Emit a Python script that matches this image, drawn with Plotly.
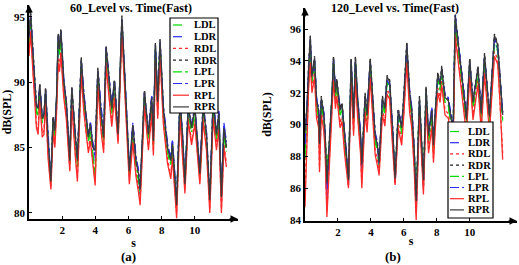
import plotly.graph_objects as go

# ---------------- data ----------------
series_names = ["LDL", "LDR", "RDL", "RDR", "LPL", "LPR", "RPL", "RPR"]
x_ticks = [2, 4, 6, 8, 10]
y_ticks_a = [80, 85, 90, 95]
y_ticks_b = [84, 86, 88, 90, 92, 94, 96]

t_a = [0.00, 0.10, 0.25, 0.45, 0.55, 0.65, 0.80, 0.90, 1.00, 1.15,
       1.32, 1.45, 1.56, 1.66, 1.76, 1.84, 1.92, 2.10, 2.25, 2.46,
       2.58, 2.70, 2.80, 2.92, 3.15, 3.30, 3.45, 3.58, 3.70, 3.85,
       3.99, 4.15, 4.35, 4.50, 4.65, 4.80, 4.99, 5.15, 5.37, 5.60,
       5.80, 6.05, 6.26, 6.45, 6.60, 6.70, 6.96, 7.20, 7.40, 7.50,
       7.62, 7.76, 7.90, 8.10, 8.35, 8.55, 8.65, 8.90, 9.10, 9.25,
       9.40, 9.60, 9.80, 10.00, 10.30, 10.50, 10.70, 10.90, 11.10, 11.30,
       11.45, 11.60, 11.75, 11.90]

a_LDL = [93.0, 94.6, 91.6, 87.6, 87.5, 89.4, 86.8, 87.0, 89.1, 85.1,
         82.8, 86.9, 85.8, 88.4, 93.1, 92.0, 93.5, 89.6, 88.0, 83.8,
         89.2, 86.6, 85.3, 83.6, 91.3, 88.6, 86.6, 85.4, 86.4, 84.6,
         82.8, 90.6, 87.1, 85.4, 92.2, 90.1, 87.6, 89.7, 85.8, 94.5,
         89.6, 83.0, 86.3, 83.6, 82.5, 81.6, 88.9, 85.6, 88.4, 85.1,
         92.5, 88.1, 92.8, 87.6, 84.6, 83.6, 85.0, 80.8, 88.2, 85.6,
         82.4, 87.8, 86.1, 87.6, 82.7, 87.8, 85.6, 81.0, 88.1, 85.6,
         87.2, 81.5, 86.1, 84.6]
a_LDR = [93.3, 95.0, 91.9, 88.0, 88.1, 89.7, 87.3, 87.4, 89.4, 85.6,
         82.6, 87.2, 86.4, 88.7, 93.4, 92.7, 93.8, 90.1, 88.4, 84.2,
         89.4, 87.1, 85.9, 84.2, 91.5, 89.1, 87.1, 85.9, 86.9, 85.2,
         84.0, 90.8, 87.6, 85.9, 92.6, 90.6, 88.1, 90.0, 86.1, 94.7,
         90.1, 83.4, 86.8, 84.2, 83.2, 81.6, 89.1, 86.1, 88.9, 85.8,
         92.7, 88.6, 93.0, 88.1, 85.2, 84.1, 85.5, 80.9, 88.7, 86.1,
         82.5, 88.3, 86.6, 88.1, 83.2, 88.3, 86.1, 81.2, 88.6, 86.1,
         87.7, 81.5, 86.8, 85.3]
a_RDL = [92.3, 94.0, 90.8, 86.8, 86.4, 88.9, 86.1, 86.3, 88.6, 84.5,
         82.0, 86.5, 85.3, 87.9, 91.9, 91.0, 92.6, 89.0, 87.5, 83.4,
         88.5, 85.9, 84.5, 82.7, 90.9, 88.1, 86.0, 84.9, 85.8, 83.9,
         82.4, 90.0, 86.5, 84.9, 91.6, 89.5, 86.9, 89.1, 85.5, 94.1,
         88.9, 82.5, 85.7, 83.1, 81.9, 80.9, 88.5, 85.1, 87.9, 84.7,
         91.9, 87.5, 92.3, 87.1, 84.1, 82.9, 84.5, 79.9, 87.7, 85.1,
         81.8, 87.3, 85.5, 87.1, 82.5, 87.3, 85.1, 80.3, 87.6, 85.1,
         86.7, 80.3, 85.3, 83.8]
a_RDR = [93.6, 95.4, 92.2, 88.3, 88.1, 89.9, 87.3, 87.6, 89.6, 85.6,
         82.5, 87.4, 86.4, 88.9, 93.7, 92.6, 94.1, 90.1, 88.6, 84.1,
         89.7, 87.1, 85.9, 84.1, 91.9, 89.1, 87.1, 85.9, 86.9, 85.1,
         84.9, 91.1, 87.6, 85.9, 92.8, 90.6, 88.1, 90.2, 86.1, 95.1,
         90.1, 83.3, 86.8, 84.1, 83.1, 81.9, 89.4, 86.1, 88.9, 85.6,
         93.0, 88.6, 93.3, 88.1, 85.1, 84.1, 85.4, 80.7, 88.7, 86.1,
         82.3, 88.3, 86.6, 88.1, 83.1, 88.3, 86.1, 81.1, 88.6, 86.1,
         87.7, 81.3, 86.6, 85.1]
a_LPL = [93.1, 94.8, 91.7, 87.8, 87.6, 89.5, 86.9, 87.1, 89.2, 85.2,
         82.6, 87.0, 85.9, 88.5, 93.2, 92.1, 93.6, 89.7, 88.1, 83.7,
         89.3, 86.7, 85.4, 83.5, 91.4, 88.7, 86.7, 85.5, 86.5, 84.7,
         82.6, 90.7, 87.2, 85.5, 92.3, 90.2, 87.7, 89.8, 85.9, 94.6,
         89.7, 82.9, 86.4, 83.7, 82.6, 81.4, 89.0, 85.7, 88.5, 85.2,
         92.6, 88.2, 92.9, 87.7, 84.7, 83.7, 85.1, 80.6, 88.3, 85.7,
         82.3, 87.9, 86.2, 87.7, 82.8, 87.9, 85.7, 80.8, 88.2, 85.7,
         87.3, 81.3, 86.2, 84.7]
a_LPR = [93.4, 95.1, 92.1, 88.1, 88.2, 89.6, 87.4, 87.5, 89.3, 85.7,
         82.5, 87.1, 86.5, 88.6, 93.5, 92.8, 93.9, 90.2, 88.3, 84.1,
         89.5, 87.2, 86.0, 84.1, 91.6, 89.2, 87.2, 86.0, 87.0, 85.3,
         84.2, 90.9, 87.7, 86.0, 92.7, 90.7, 88.2, 90.1, 86.2, 94.8,
         90.2, 83.5, 86.9, 84.3, 83.3, 81.5, 89.2, 86.2, 89.0, 85.9,
         92.8, 88.7, 93.1, 88.2, 85.3, 84.2, 85.6, 80.8, 88.8, 86.2,
         82.4, 88.4, 86.7, 88.2, 83.3, 88.4, 86.2, 81.1, 88.7, 86.2,
         87.8, 81.4, 86.9, 85.4]
a_RPL = [92.0, 93.8, 90.5, 86.5, 86.0, 88.6, 85.8, 86.0, 88.4, 84.2,
         81.8, 86.2, 85.0, 87.6, 91.5, 90.8, 92.2, 88.8, 87.2, 83.2,
         88.2, 85.6, 84.2, 82.4, 90.6, 87.8, 85.8, 84.6, 85.5, 83.6,
         82.1, 89.8, 86.2, 84.6, 91.3, 89.2, 86.6, 88.8, 85.3, 93.8,
         88.6, 82.2, 85.4, 82.8, 81.6, 80.6, 88.2, 84.8, 87.6, 84.4,
         91.6, 87.2, 92.0, 86.8, 83.8, 82.6, 84.2, 79.6, 87.4, 84.8,
         81.5, 87.0, 85.2, 86.8, 82.2, 87.0, 84.8, 80.0, 87.3, 84.8,
         86.4, 80.0, 85.0, 83.5]
a_RPR = [93.5, 95.2, 92.0, 88.2, 88.0, 89.8, 87.2, 87.5, 89.5, 85.5,
         82.4, 87.3, 86.3, 88.8, 93.6, 92.5, 94.0, 90.0, 88.5, 84.0,
         89.6, 87.0, 85.8, 84.0, 91.8, 89.0, 87.0, 85.8, 86.8, 85.0,
         84.8, 91.0, 87.5, 85.8, 92.7, 90.5, 88.0, 90.1, 86.0, 95.0,
         90.0, 83.2, 86.7, 84.0, 83.0, 81.8, 89.3, 86.0, 88.8, 85.5,
         92.9, 88.5, 93.2, 88.0, 85.0, 84.0, 85.3, 80.6, 88.6, 86.0,
         82.2, 88.2, 86.5, 88.0, 83.0, 88.2, 86.0, 81.0, 88.5, 86.0,
         87.6, 81.2, 86.5, 85.0]

t_b = [0.00, 0.12, 0.22, 0.32, 0.42, 0.52, 0.58, 0.70, 0.83, 0.88,
       0.99, 1.14, 1.22, 1.33, 1.50, 1.63, 1.73, 1.85, 1.93, 2.13,
       2.25, 2.40, 2.50, 2.64, 2.80, 2.95, 3.06, 3.20, 3.37, 3.45,
       3.65, 3.77, 3.96, 4.10, 4.26, 4.40, 4.50, 4.70, 4.85, 4.98,
       5.14, 5.33, 5.47, 5.66, 5.87, 6.00, 6.18, 6.35, 6.48, 6.63,
       6.75, 6.95, 7.19, 7.35, 7.50, 7.70, 7.80, 7.90, 8.06, 8.20,
       8.30, 8.50, 8.70, 8.90, 9.00, 9.12, 9.50, 9.70, 9.80, 10.00,
       10.20, 10.40, 10.50, 10.70, 10.90, 11.20, 11.50, 11.70, 11.85, 12.00]

b_LDL = [87.8, 90.6, 93.2, 95.0, 92.6, 93.2, 93.8, 91.1, 90.4, 88.4,
         91.3, 90.2, 89.1, 87.2, 88.8, 91.3, 93.8, 91.6, 92.4, 90.5,
         90.9, 88.9, 87.9, 86.5, 93.7, 90.0, 93.8, 91.1, 88.9, 87.2,
         91.5, 90.2, 93.7, 91.1, 88.9, 88.3, 87.4, 91.3, 90.6, 92.6,
         92.3, 89.1, 86.6, 90.5, 89.4, 91.4, 94.7, 91.6, 90.5, 88.0,
         85.6, 91.3, 86.3, 91.9, 88.9, 90.5, 88.3, 90.3, 92.8, 92.1,
         93.2, 91.3, 91.1, 89.8, 89.6, 96.4, 93.0, 91.0, 89.9, 93.7,
         91.0, 92.5, 93.2, 90.3, 94.0, 90.1, 95.2, 94.6, 92.1, 90.2]
b_LDR = [88.5, 91.0, 93.5, 95.4, 93.1, 93.5, 94.1, 91.6, 90.9, 88.6,
         91.6, 90.7, 89.4, 84.6, 89.1, 91.6, 94.0, 92.1, 92.7, 91.0,
         91.2, 89.4, 88.4, 86.2, 94.0, 90.5, 94.1, 91.6, 89.4, 87.0,
         91.8, 90.7, 94.0, 91.6, 89.4, 88.8, 87.4, 91.6, 91.1, 92.9,
         92.6, 89.6, 86.2, 90.8, 89.9, 91.7, 95.0, 92.1, 91.0, 88.3,
         84.5, 91.6, 86.0, 92.2, 89.4, 91.0, 88.8, 90.6, 93.1, 92.6,
         93.5, 91.8, 91.6, 90.3, 90.1, 96.9, 93.5, 91.5, 90.4, 94.0,
         91.5, 92.8, 93.5, 90.8, 94.3, 90.6, 95.5, 94.9, 92.6, 90.7]
b_RDL = [85.5, 89.8, 92.6, 94.2, 92.3, 92.9, 93.3, 90.7, 90.1, 87.3,
         90.9, 89.9, 88.7, 84.6, 88.3, 90.9, 93.1, 91.3, 92.1, 90.1,
         90.5, 88.5, 87.5, 86.1, 93.1, 89.6, 93.2, 90.7, 88.5, 86.3,
         91.1, 89.8, 93.2, 90.7, 88.4, 87.7, 87.0, 90.9, 90.2, 92.2,
         91.9, 88.7, 86.3, 90.1, 89.0, 90.9, 94.2, 91.1, 90.1, 87.5,
         84.3, 90.9, 85.9, 91.5, 88.5, 90.1, 87.9, 89.9, 92.3, 91.7,
         92.8, 90.9, 90.7, 89.5, 89.3, 95.9, 92.6, 90.6, 89.6, 93.3,
         90.6, 92.1, 92.8, 89.9, 93.5, 89.8, 94.6, 94.1, 91.5, 88.2]
b_RDR = [89.8, 91.2, 93.8, 95.6, 93.1, 93.7, 94.3, 91.6, 90.9, 88.9,
         91.8, 90.7, 89.6, 86.4, 89.3, 91.8, 94.3, 92.1, 92.9, 91.0,
         91.4, 89.4, 88.4, 86.6, 94.2, 90.5, 94.3, 91.6, 89.4, 87.6,
         92.0, 90.7, 94.2, 91.6, 89.4, 88.8, 87.7, 91.8, 91.1, 93.1,
         92.8, 89.6, 86.7, 91.0, 89.9, 91.9, 95.2, 92.1, 91.0, 88.5,
         85.3, 91.8, 86.6, 92.4, 89.4, 91.0, 88.8, 90.8, 93.3, 92.6,
         93.7, 91.8, 91.6, 90.3, 90.1, 96.9, 93.5, 91.5, 90.4, 94.2,
         91.5, 93.0, 93.7, 90.8, 94.5, 90.6, 95.7, 95.1, 92.6, 90.7]
b_LPL = [88.2, 90.7, 93.3, 95.1, 92.7, 93.3, 93.9, 91.2, 90.5, 88.5,
         91.4, 90.3, 89.2, 87.4, 88.9, 91.4, 93.9, 91.7, 92.5, 90.6,
         91.0, 89.0, 88.0, 86.4, 93.8, 90.1, 93.9, 91.2, 89.0, 87.3,
         91.6, 90.3, 93.8, 91.2, 89.0, 88.4, 87.5, 91.4, 90.7, 92.7,
         92.4, 89.2, 86.5, 90.6, 89.5, 91.5, 94.8, 91.7, 90.6, 88.1,
         85.4, 91.4, 86.2, 92.0, 89.0, 90.6, 88.4, 90.4, 92.9, 92.2,
         93.3, 91.4, 91.2, 89.9, 89.7, 96.5, 93.1, 91.1, 90.0, 93.8,
         91.1, 92.6, 93.3, 90.4, 94.1, 90.2, 95.3, 94.7, 92.2, 90.3]
b_LPR = [88.9, 91.1, 93.4, 95.3, 93.2, 93.4, 94.0, 91.7, 91.0, 88.7,
         91.5, 90.8, 89.3, 85.0, 89.2, 91.5, 94.1, 92.2, 92.6, 91.1,
         91.1, 89.5, 88.5, 86.3, 93.9, 90.6, 94.0, 91.7, 89.5, 87.2,
         91.7, 90.8, 93.9, 91.7, 89.5, 88.9, 87.5, 91.5, 91.2, 92.8,
         92.5, 89.7, 86.4, 90.9, 90.0, 91.6, 94.9, 92.2, 91.1, 88.4,
         84.8, 91.5, 86.1, 92.1, 89.5, 91.1, 88.9, 90.5, 93.0, 92.7,
         93.4, 91.9, 91.7, 90.4, 90.2, 96.8, 93.6, 91.6, 90.5, 93.9,
         91.6, 92.7, 93.4, 90.9, 94.2, 90.7, 95.4, 94.8, 92.7, 90.8]
b_RPL = [84.8, 89.5, 92.3, 93.9, 92.0, 92.6, 93.0, 90.4, 89.8, 87.0,
         90.6, 89.6, 88.4, 84.2, 88.0, 90.6, 92.8, 91.0, 91.8, 89.8,
         90.2, 88.2, 87.2, 86.0, 92.8, 89.3, 92.9, 90.4, 88.2, 86.0,
         90.8, 89.5, 92.9, 90.4, 88.1, 87.4, 86.8, 90.6, 89.9, 91.9,
         91.6, 88.4, 86.2, 89.8, 88.7, 90.6, 93.9, 90.8, 89.8, 87.2,
         84.0, 90.6, 85.6, 91.2, 88.2, 89.8, 87.6, 89.6, 92.0, 91.4,
         92.5, 90.6, 90.4, 89.2, 89.0, 95.6, 92.3, 90.3, 89.4, 93.0,
         90.3, 91.8, 92.5, 89.6, 93.2, 89.5, 94.3, 93.8, 91.2, 87.8]
b_RPR = [89.5, 91.0, 93.6, 95.5, 93.0, 93.6, 94.2, 91.5, 90.8, 88.8,
         91.7, 90.6, 89.5, 86.3, 89.2, 91.7, 94.2, 92.0, 92.8, 90.9,
         91.3, 89.3, 88.3, 86.5, 94.1, 90.4, 94.2, 91.5, 89.3, 87.5,
         91.9, 90.6, 94.1, 91.5, 89.3, 88.7, 87.6, 91.7, 91.0, 93.0,
         92.7, 89.5, 86.6, 90.9, 89.8, 91.8, 95.1, 92.0, 90.9, 88.4,
         85.2, 91.7, 86.5, 92.3, 89.3, 90.9, 88.7, 90.7, 93.2, 92.5,
         93.6, 91.7, 91.5, 90.2, 90.0, 96.8, 93.4, 91.4, 90.3, 94.1,
         91.4, 92.9, 93.6, 90.7, 94.4, 90.5, 95.6, 95.0, 92.5, 90.6]

panel_a = [a_LDL, a_LDR, a_RDL, a_RDR, a_LPL, a_LPR, a_RPL, a_RPR]
panel_b = [b_LDL, b_LDR, b_RDL, b_RDR, b_LPL, b_LPR, b_RPL, b_RPR]

# ---------------- style ----------------
W, H = 519, 265
colors = ["#00dd00", "#2a2aff", "#ff2a2a", "#222222",
          "#00dd00", "#2a2aff", "#ff2a2a", "#3a3a3a"]
dashes = ["dash", "dash", "dot", "dot", "dashdot", "dashdot", "solid", "solid"]
FONT = "Liberation Serif"


def px(x):
    return x / W


def py(y):
    return 1 - y / H


fig = go.Figure()
for vals, name, c, d in zip(panel_a, series_names, colors, dashes):
    fig.add_trace(go.Scatter(x=t_a, y=vals, name=name, mode="lines",
                             line=dict(color=c, dash=d, width=1.3),
                             xaxis="x", yaxis="y", showlegend=False))
for vals, name, c, d in zip(panel_b, series_names, colors, dashes):
    fig.add_trace(go.Scatter(x=t_b, y=vals, name=name, mode="lines",
                             line=dict(color=c, dash=d, width=1.3),
                             xaxis="x2", yaxis="y2", showlegend=False))

tickfont = dict(family=FONT, size=11, color="black", weight="bold")
titlefont = dict(family=FONT, size=12, color="black", weight="bold")
common = dict(showline=True, linecolor="black", linewidth=1.6, showgrid=False,
              zeroline=False, ticks="inside", ticklen=3, tickcolor="black",
              tickfont=tickfont, automargin=False)

fig.update_layout(
    width=W, height=H, margin=dict(l=0, r=0, t=0, b=0),
    paper_bgcolor="white", plot_bgcolor="white",
    xaxis=dict(domain=[px(29), px(238)], range=[0, 12.6], tickvals=x_ticks,
               title=dict(text="s", font=titlefont, standoff=0), anchor="y", **common),
    yaxis=dict(domain=[1 - 219 / H, 1 - 5 / H], range=[79.54, 95.9], tickvals=y_ticks_a,
               title=dict(text="dB(SPL)", font=titlefont, standoff=1), anchor="x", **common),
    xaxis2=dict(domain=[px(305), px(517)], range=[0, 12.87], tickvals=x_ticks,
                title=dict(text="s", font=titlefont, standoff=0), anchor="y2", **common),
    yaxis2=dict(domain=[1 - 221 / H, 1 - 8 / H], range=[83.94, 97.33], tickvals=y_ticks_b,
                title=dict(text="dB(SPL)", font=titlefont, standoff=16), anchor="x2", **common),
)

ann = []
shapes = []
# titles and captions
ann.append(dict(text="60_Level vs. Time(Fast)", x=px(131), y=py(8), xref="paper", yref="paper",
                showarrow=False, font=titlefont, xanchor="center", yanchor="middle"))
ann.append(dict(text="120_Level vs. Time(Fast)", x=px(395), y=py(8), xref="paper", yref="paper",
                showarrow=False, font=titlefont, xanchor="center", yanchor="middle"))
ann.append(dict(text="(a)", x=px(128), y=py(256), xref="paper", yref="paper",
                showarrow=False, font=dict(family=FONT, size=13, color="black", weight="bold"),
                xanchor="center", yanchor="middle"))
ann.append(dict(text="(b)", x=px(393), y=py(256), xref="paper", yref="paper",
                showarrow=False, font=dict(family=FONT, size=13, color="black", weight="bold"),
                xanchor="center", yanchor="middle"))

# axis arrows
for (xa, ya, axx, ayy) in [(238, 219, -10, 0), (29, 5, 0, 10),
                           (517, 221, -10, 0), (305, 8, 0, 10)]:
    ann.append(dict(text="", x=px(xa), y=py(ya), xref="paper", yref="paper",
                    showarrow=True, arrowhead=2, arrowsize=1, arrowwidth=1.5,
                    arrowcolor="black", ax=axx, ay=ayy))

# legends
legend_boxes = [
    dict(x0=170, x1=218, y0=18, y1=113, first=25, step=11.7, lx0=173, lx1=189, tx=192),
    dict(x0=448, x1=493, y0=122, y1=218, first=131.5, step=11.2, lx0=450, lx1=464, tx=466),
]
for lb in legend_boxes:
    shapes.append(dict(type="rect", xref="paper", yref="paper",
                       x0=px(lb["x0"]), x1=px(lb["x1"]), y0=py(lb["y1"]), y1=py(lb["y0"]),
                       fillcolor="white", line=dict(color="black", width=1.2), layer="above"))
    for i, (name, c, d) in enumerate(zip(series_names, colors, dashes)):
        yy = lb["first"] + i * lb["step"]
        shapes.append(dict(type="line", xref="paper", yref="paper",
                           x0=px(lb["lx0"]), x1=px(lb["lx1"]), y0=py(yy), y1=py(yy),
                           line=dict(color=c, dash=d, width=1.2), layer="above"))
        ann.append(dict(text=name, x=px(lb["tx"]), y=py(yy), xref="paper", yref="paper",
                        showarrow=False, xanchor="left", yanchor="middle",
                        font=dict(family=FONT, size=10.5, color="black", weight="bold")))

fig.update_layout(annotations=ann, shapes=shapes)
fig.write_html("out.html", config={"displayModeBar": False},
               post_script="document.body.style.margin='0';document.body.style.padding='0';")
